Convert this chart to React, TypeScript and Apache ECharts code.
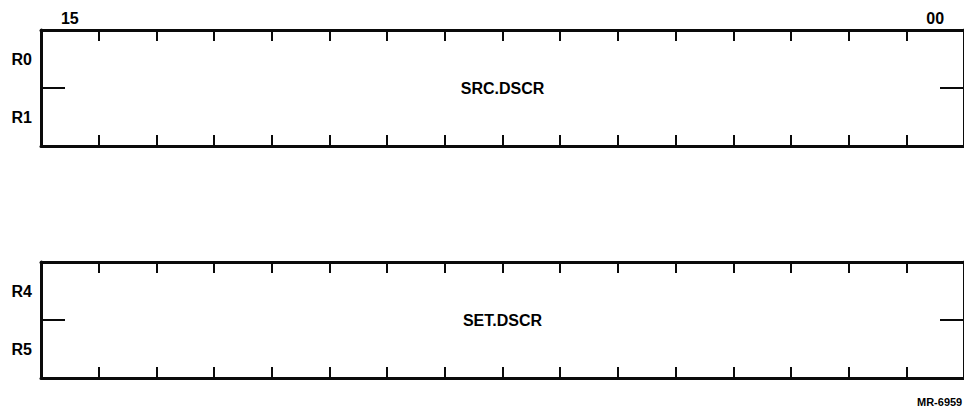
import React, { useEffect, useRef } from "react";
import * as echarts from "echarts";

const bitLabels = ["15", "14", "13", "12", "11", "10", "09", "08", "07", "06", "05", "04", "03", "02", "01", "00"];
const labeledBits = ["15", "00"];
const upperRows = ["R0", "R1"];
const lowerRows = ["R4", "R5"];
const fieldNames = ["SRC.DSCR", "SET.DSCR"];
const figureId = "MR-6959";

const FONT = '"Liberation Sans", Arial, Helvetica, sans-serif';

export default function App() {
  const ref = useRef<HTMLDivElement>(null);
  useEffect(() => {
    if (!ref.current) return;
    const chart = echarts.init(ref.current, undefined, { renderer: "svg" });
    const rowsList = [upperRows, lowerRows];
    const tops = [30, 262];
    const grids: any[] = [];
    const xAxes: any[] = [];
    const yAxes: any[] = [];
    const series: any[] = [];
    const lineStyle = { color: "#0a0a0a", width: 3 };
    const tickStyle = { color: "#0a0a0a", width: 2 };
    rowsList.forEach((rows, i) => {
      grids.push({ left: 41, top: tops[i], width: 928, height: 116 });
      xAxes.push({
        gridIndex: i,
        type: "category",
        data: bitLabels,
        position: "top",
        boundaryGap: true,
        axisLine: { show: true, onZero: false, lineStyle },
        axisTick: { show: true, inside: true, length: 11, interval: 0, lineStyle: tickStyle },
        axisLabel: {
          show: i === 0,
          interval: 0,
          margin: 4,
          fontFamily: FONT,
          fontSize: 16,
          fontWeight: "bold",
          color: "#000",
          formatter: (v: string) => (labeledBits.includes(v) ? v : ""),
        },
        splitLine: { show: false },
      });
      xAxes.push({
        gridIndex: i,
        type: "category",
        data: bitLabels,
        position: "bottom",
        boundaryGap: true,
        axisLine: { show: true, onZero: false, lineStyle },
        axisTick: { show: true, inside: true, length: 11, interval: 0, lineStyle: tickStyle },
        axisLabel: { show: false },
        splitLine: { show: false },
      });
      xAxes.push({ gridIndex: i, type: "value", min: 0, max: 16, show: false, axisLine: { onZero: false } });
      yAxes.push({
        gridIndex: i,
        type: "category",
        data: rows,
        inverse: true,
        position: "left",
        boundaryGap: true,
        axisLine: { show: true, onZero: false, lineStyle },
        axisTick: { show: true, inside: true, length: 24, interval: 0, lineStyle: tickStyle },
        axisLabel: {
          show: true,
          margin: 9,
          fontFamily: FONT,
          fontSize: 16,
          fontWeight: "bold",
          color: "#000",
        },
        splitLine: { show: false },
      });
      yAxes.push({
        gridIndex: i,
        type: "category",
        data: rows,
        inverse: true,
        position: "right",
        boundaryGap: true,
        axisLine: { show: true, onZero: false, lineStyle },
        axisTick: { show: true, inside: true, length: 24, interval: 0, lineStyle: tickStyle },
        axisLabel: { show: false },
        splitLine: { show: false },
      });
      yAxes.push({ gridIndex: i, type: "value", min: 0, max: 2, show: false, axisLine: { onZero: false } });
      series.push({
        type: "scatter",
        xAxisIndex: 3 * i + 2,
        yAxisIndex: 3 * i + 2,
        data: [[8, 1]],
        symbolSize: 1,
        itemStyle: { color: "transparent", opacity: 1 },
        silent: true,
        label: {
          show: true,
          position: "inside",
          formatter: fieldNames[i],
          fontFamily: FONT,
          fontSize: 16,
          fontWeight: "bold",
          color: "#000",
          opacity: 1,
        },
      });
    });
    chart.setOption({
      animation: false,
      backgroundColor: "#fff",
      grid: grids,
      xAxis: xAxes,
      yAxis: yAxes,
      series,
      graphic: [
        {
          type: "text",
          left: 917,
          top: 396,
          style: { text: figureId, font: `bold 11px ${FONT}`, fill: "#000" },
        },
      ],
    });
    return () => chart.dispose();
  }, []);
  return (
    <div
      ref={ref}
      style={{ position: "fixed", left: 0, top: 0, width: 964, height: 409 }}
    />
  );
}
